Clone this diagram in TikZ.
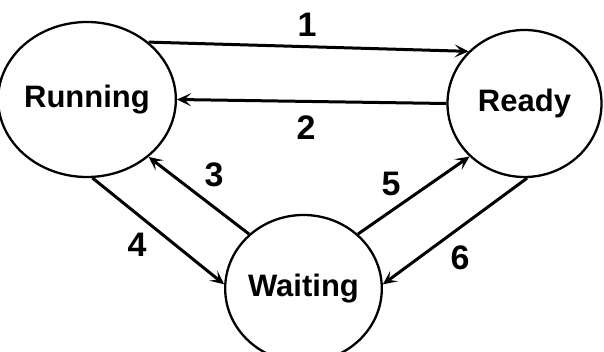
\documentclass[tikz,border=0pt]{standalone}
\usepackage{fontspec}
\setmainfont{Liberation Sans}
\usetikzlibrary{arrows.meta,shapes.geometric}
\begin{document}
\begin{tikzpicture}[x=1pt,y=-1pt,
  state/.style={draw, line width=2.3pt, ellipse, inner sep=0pt, font=\fontsize{31}{36}\selectfont\bfseries},
  arr/.style={line width=3pt, -{Stealth[length=14pt,width=13pt,inset=6.5pt]}},
  lab/.style={font=\fontsize{34}{40}\selectfont\bfseries, inner sep=0pt}]
\useasboundingbox (0,0) rectangle (604,352);
\node[state, minimum width=160pt, minimum height=155pt] (run) at (87,99.5) {Running};
\node[state, minimum width=154pt, minimum height=147pt] (rdy) at (524.5,103.5) {Ready};
\node[state, minimum width=147pt, minimum height=147pt] (wai) at (303.5,288.5) {Waiting};
\draw[arr] (run.43) -- (rdy.137);
\draw[arr] (rdy.180) -- (run.0);
\draw[arr] (wai.135) -- (run.-43);
\draw[arr] (run.-86) -- (wai.177);
\draw[arr] (wai.45) -- (rdy.-136);
\draw[arr] (rdy.-88) -- (wai.3);
\node[lab] (l1) at (307,24.5) {1};
\node[lab] (l2) at (306,127.5) {2};
\node[lab] (l3) at (214,175) {3};
\node[lab] (l4) at (137,244.5) {4};
\node[lab] (l5) at (391,184) {5};
\node[lab] (l6) at (460,258) {6};
\end{tikzpicture}
\end{document}
